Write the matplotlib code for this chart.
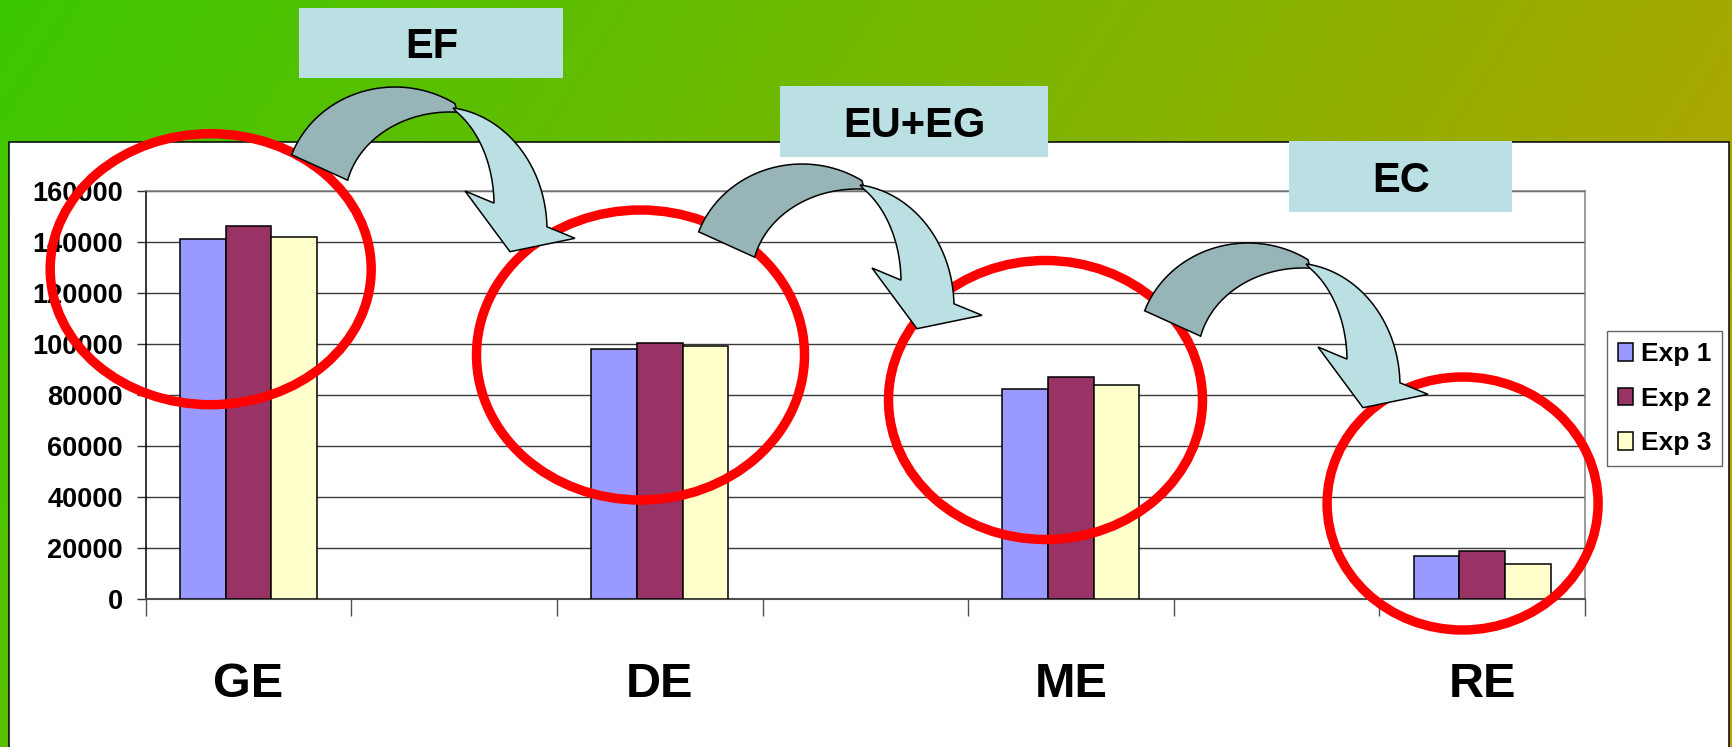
import numpy as np
import matplotlib
matplotlib.use("Agg")
import matplotlib.pyplot as plt
from matplotlib.patches import Rectangle, Ellipse, Polygon

plt.rcParams['font.family'] = ['Liberation Sans', 'DejaVu Sans']
plt.rcParams['font.weight'] = 'bold'

# energy partition stages, one group of bars per stage
stages = ["GE", "DE", "ME", "RE"]
exp_names = ["Exp 1", "Exp 2", "Exp 3"]
exp1 = [141000, 98000, 82500, 17000]
exp2 = [146000, 100500, 87000, 19000]
exp3 = [142000, 99000, 84000, 14000]
y_ticks = [0, 20000, 40000, 60000, 80000, 100000, 120000, 140000, 160000]

# losses between stages
steps = ["EF", "EU+EG", "EC"]

bar_colors = ['#9999FF', '#993366', '#FFFFCC']

W, H = 1733, 747
fig = plt.figure(figsize=(W / 100, H / 100), dpi=100)

# slide background: green -> olive gradient with white chart panel
bg = fig.add_axes([0, 0, 1, 1], zorder=0)
xx, yy = np.meshgrid(np.linspace(0, 1, W), np.linspace(0, 1, H))
t = 0.78 * xx + 0.22 * yy
c0 = np.array([0.235, 0.785, 0.0])
c1 = np.array([0.76, 0.63, 0.0])
grad = c0 + t[..., None] * (c1 - c0)
bg.imshow(grad, extent=(0, W, H, 0), aspect='auto', interpolation='bilinear')
bg.add_patch(Rectangle((9.5, 141.5), 1719.5, 650, facecolor='white',
                       edgecolor='black', lw=1.1))
bg.set_xlim(0, W)
bg.set_ylim(H, 0)
bg.axis('off')

# bar chart
ax = fig.add_axes([145.7 / W, 1 - 599.3 / H, (1585 - 145.7) / W, (599.3 - 190.7) / H],
                  zorder=1)
pos = np.arange(len(stages)) * 2
bw = 0.222
for k, vals in enumerate([exp1, exp2, exp3]):
    ax.bar(pos + (k - 1) * bw, vals, bw, color=bar_colors[k], edgecolor='black',
           lw=1.1, label=exp_names[k], zorder=3)

ax.set_xlim(-0.5, 6.5)
ax.set_ylim(0, 160000)
ax.set_yticks(y_ticks)
ax.set_yticklabels([str(v) for v in y_ticks])
ax.set_xticks(np.arange(-0.5, 7, 1))
ax.set_xticklabels([])
ax.set_xticks(pos, minor=True)
ax.set_xticklabels(stages, minor=True, fontsize=35, fontweight='bold')
ax.tick_params(axis='x', which='minor', length=0, pad=45)
ax.tick_params(axis='x', which='major', length=12, width=1, color='#505050',
               direction='out')
ax.tick_params(axis='y', length=6.5, width=1, color='#303030', pad=10,
               labelsize=19.5)
ax.yaxis.grid(True, color='#3a3a3a', lw=1)
ax.set_axisbelow(True)
ax.spines['left'].set_color('black')
ax.spines['left'].set_linewidth(1.1)
ax.spines['bottom'].set_color('#505050')
ax.spines['bottom'].set_linewidth(1.5)
for s in ('top', 'right'):
    ax.spines[s].set_color('#808080')
    ax.spines[s].set_linewidth(1.1)

leg = ax.legend(loc='upper left', bbox_to_anchor=(1607 / W, 1 - 331 / H),
                bbox_transform=fig.transFigure, borderaxespad=0, fancybox=False,
                edgecolor='#404040', fontsize=19, handlelength=0.55,
                handleheight=0.65, handletextpad=0.3, labelspacing=0.78,
                borderpad=0.42)
leg.get_frame().set_linewidth(1)

# overlay: red circles, curved arrows and step labels (pixel coordinates)
ov = fig.add_axes([0, 0, 1, 1], zorder=2)
ov.set_xlim(0, W)
ov.set_ylim(H, 0)
ov.axis('off')

circles = [((210.7, 269.2), 321, 271), ((640.5, 355), 328, 290),
           ((1045.5, 400), 314, 279), ((1462.6, 503.5), 271, 253)]
for c, w, h in circles:
    ov.add_patch(Ellipse(c, w, h, fill=False, edgecolor='#FF0000', lw=6.8))


def arc(cx, cy, rx, ry, a0, a1, n=40):
    a = np.radians(np.linspace(a0, a1, n))
    return np.column_stack([cx + rx * np.cos(a), cy - ry * np.sin(a)])


def curved_arrow(axis, dx, dy):
    back = np.vstack([arc(395, 190, 110, 103, 160, 57),
                      arc(450, 200, 105, 88, 86, 167)])
    front = np.vstack([arc(440, 230, 107, 123, 83, 1.5),
                       [[575, 238.3], [510, 251.7], [465, 191]],
                       arc(418, 205, 76, 108, 1, 59.5)])
    for pts, col in ((back, '#97B4B6'), (front, '#BBE0E3')):
        axis.add_patch(Polygon(pts + [dx, dy], closed=True, facecolor=col,
                               edgecolor='black', lw=1.1, joinstyle='miter'))


for dx, dy in [(0, 0), (407, 77), (853, 156)]:
    curved_arrow(ov, dx, dy)

boxes = [(299.5, 7.5, 264, 70), (780, 86, 268, 70.5), (1289, 141.2, 223.5, 70.3)]
for (x0, y0, w, h), s in zip(boxes, steps):
    ov.add_patch(Rectangle((x0, y0), w, h, facecolor='#BBE0E3', edgecolor='none'))
    ov.text(x0 + w / 2, y0 + h / 2, s, ha='center', va='center_baseline',
            fontsize=30, fontweight='bold', color='black')

fig.savefig('out.png', dpi=100)
